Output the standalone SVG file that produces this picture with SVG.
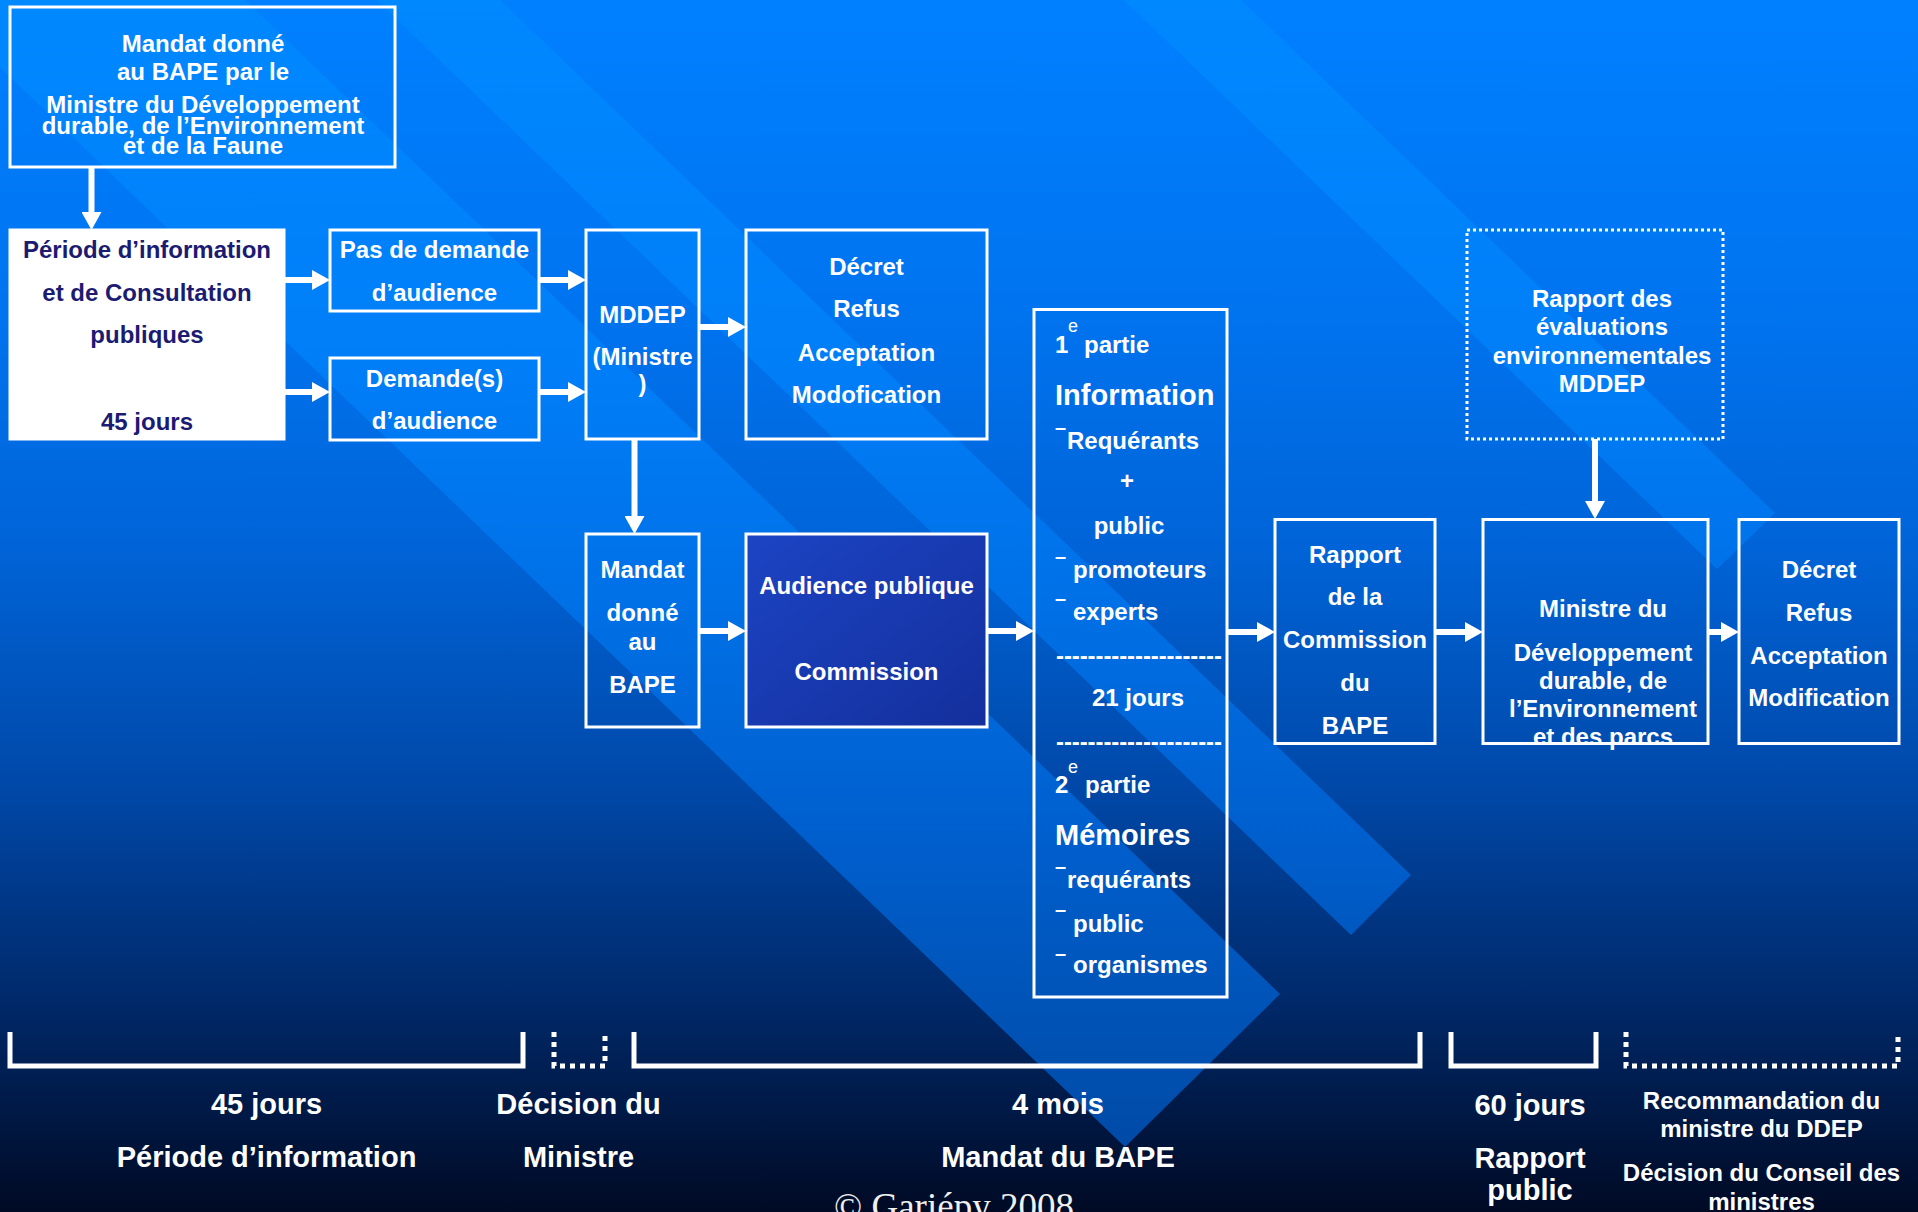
<svg xmlns="http://www.w3.org/2000/svg" width="1918" height="1212" viewBox="0 0 1918 1212">
<defs>
<linearGradient id="bg" x1="0" y1="0" x2="0" y2="1212" gradientUnits="userSpaceOnUse">
<stop offset="0" stop-color="#0080ff"/>
<stop offset="0.25" stop-color="#0074f0"/>
<stop offset="0.45" stop-color="#0064d8"/>
<stop offset="0.65" stop-color="#0048a8"/>
<stop offset="0.82" stop-color="#002a6c"/>
<stop offset="1" stop-color="#000a24"/>
</linearGradient>
<linearGradient id="band" x1="0" y1="0" x2="0" y2="1212" gradientUnits="userSpaceOnUse">
<stop offset="0" stop-color="#0088ff"/>
<stop offset="0.3" stop-color="#007ef8"/>
<stop offset="0.5" stop-color="#0070e6"/>
<stop offset="0.7" stop-color="#005ecc"/>
<stop offset="0.85" stop-color="#0052b4"/>
<stop offset="1" stop-color="#0046a0"/>
</linearGradient>
<linearGradient id="aud" x1="0" y1="0" x2="1" y2="1">
<stop offset="0" stop-color="#1c44c4"/>
<stop offset="1" stop-color="#142f9c"/>
</linearGradient>
<marker id="ah" markerUnits="userSpaceOnUse" markerWidth="18" markerHeight="20" viewBox="0 0 18 20" refX="8" refY="10" orient="auto">
<path d="M0,0 L18,10 L0,20 Z" fill="#fff"/>
</marker>
<style>
.t{font-family:"Liberation Sans",Arial,sans-serif;font-weight:bold;font-size:24px;fill:#fff;text-anchor:middle}
.l{text-anchor:start}
.big{font-size:29px}
.sup{font-size:18px;font-weight:normal}
.dash{font-size:20px}
.nv{fill:#1b1b72}
.box{fill:none;stroke:#fff;stroke-width:3}
.arr{stroke:#fff;stroke-width:6;fill:none;marker-end:url(#ah)}
.br{stroke:#fff;stroke-width:5;fill:none}
.dot{stroke-dasharray:5 5}
.cp{font-family:"Liberation Serif","Times New Roman",serif;font-size:37px;fill:#f0f0f0;text-anchor:middle}
</style>
</defs>

<g id="background">
<rect x="0" y="0" width="1918" height="1212" fill="url(#bg)"/>
<polygon points="-70,0 245,0 1280,994 1125,1147" fill="url(#band)"/>
<polygon points="377,0 500,0 1411,875 1351,935" fill="url(#band)"/>
<polygon points="1124,0 1241,0 1775,513 1717,569" fill="url(#band)"/>
</g>

<g id="connectors">
<line class="arr" x1="91.5" y1="167" x2="91.5" y2="220"/>
<line class="arr" x1="284" y1="280" x2="320" y2="280"/>
<line class="arr" x1="284" y1="392" x2="320" y2="392"/>
<line class="arr" x1="539" y1="280" x2="576" y2="280"/>
<line class="arr" x1="539" y1="392" x2="576" y2="392"/>
<line class="arr" x1="699" y1="327" x2="736" y2="327"/>
<line class="arr" x1="634.5" y1="439" x2="634.5" y2="524"/>
<line class="arr" x1="699" y1="631" x2="736" y2="631"/>
<line class="arr" x1="987" y1="631" x2="1024" y2="631"/>
<line class="arr" x1="1227" y1="632" x2="1265" y2="632"/>
<line class="arr" x1="1435" y1="632" x2="1473" y2="632"/>
<line class="arr" x1="1708" y1="632" x2="1729" y2="632"/>
<line class="arr" x1="1595" y1="439" x2="1595" y2="509"/>
</g>

<g id="mandat-top">
<rect class="box" x="10" y="7" width="385" height="160"/>
<text class="t" x="203" y="52">Mandat donné</text>
<text class="t" x="203" y="80">au BAPE par le</text>
<text class="t" x="203" y="113">Ministre du Développement</text>
<text class="t" x="203" y="133.5">durable, de l’Environnement</text>
<text class="t" x="203" y="154">et de la Faune</text>
</g>

<g id="periode">
<rect x="10" y="230" width="274" height="209" fill="#fff" stroke="#fff" stroke-width="3"/>
<text class="t nv" x="147" y="258">Période d’information</text>
<text class="t nv" x="147" y="301">et de Consultation</text>
<text class="t nv" x="147" y="343">publiques</text>
<text class="t nv" x="147" y="430">45 jours</text>
</g>

<g id="pas-demande">
<rect class="box" x="330" y="230" width="209" height="81"/>
<text class="t" x="434.5" y="258">Pas de demande</text>
<text class="t" x="434.5" y="301">d’audience</text>
</g>

<g id="demandes">
<rect class="box" x="330" y="358" width="209" height="82"/>
<text class="t" x="434.5" y="387">Demande(s)</text>
<text class="t" x="434.5" y="429">d’audience</text>
</g>

<g id="mddep">
<rect class="box" x="586" y="230" width="113" height="209"/>
<text class="t" x="642.5" y="322.5">MDDEP</text>
<text class="t" x="642.5" y="365">(Ministre</text>
<text class="t" x="642.5" y="392">)</text>
</g>

<g id="decret1">
<rect class="box" x="746" y="230" width="241" height="209"/>
<text class="t" x="866.5" y="274.5">Décret</text>
<text class="t" x="866.5" y="317">Refus</text>
<text class="t" x="866.5" y="360.5">Acceptation</text>
<text class="t" x="866.5" y="403">Modofication</text>
</g>

<g id="mandat-bape">
<rect class="box" x="586" y="534" width="113" height="193"/>
<text class="t" x="642.5" y="578">Mandat</text>
<text class="t" x="642.5" y="621">donné</text>
<text class="t" x="642.5" y="650">au</text>
<text class="t" x="642.5" y="692.5">BAPE</text>
</g>

<g id="audience">
<rect x="746" y="534" width="241" height="193" fill="url(#aud)" stroke="#fff" stroke-width="3"/>
<text class="t" x="866.5" y="594">Audience publique</text>
<text class="t" x="866.5" y="680">Commission</text>
</g>

<g id="parties">
<rect class="box" x="1034" y="309.5" width="193" height="687.5"/>
<text class="t l" x="1055" y="353">1</text>
<text class="t l sup" x="1068" y="332">e</text>
<text class="t l" x="1084" y="353">partie</text>
<text class="t l big" x="1055" y="405">Information</text>
<text class="t l dash" x="1055" y="433.5">–</text>
<text class="t l" x="1067" y="449">Requérants</text>
<text class="t" x="1127" y="489">+</text>
<text class="t" x="1129" y="534">public</text>
<text class="t l dash" x="1055" y="562.5">–</text>
<text class="t l" x="1073" y="578">promoteurs</text>
<text class="t l dash" x="1055" y="604.5">–</text>
<text class="t l" x="1073" y="620">experts</text>
<text class="t l" x="1056" y="663.5" textLength="166" lengthAdjust="spacing">---------------------</text>
<text class="t" x="1138" y="706">21 jours</text>
<text class="t l" x="1056" y="750" textLength="166" lengthAdjust="spacing">---------------------</text>
<text class="t l" x="1055" y="793">2</text>
<text class="t l sup" x="1068" y="773">e</text>
<text class="t l" x="1085" y="793">partie</text>
<text class="t l big" x="1055" y="845">Mémoires</text>
<text class="t l dash" x="1055" y="872.5">–</text>
<text class="t l" x="1067" y="888">requérants</text>
<text class="t l dash" x="1055" y="915.5">–</text>
<text class="t l" x="1073" y="932">public</text>
<text class="t l dash" x="1055" y="959.5">–</text>
<text class="t l" x="1073" y="973">organismes</text>
</g>

<g id="rapport-commission">
<rect class="box" x="1275" y="519.5" width="160" height="224"/>
<text class="t" x="1355" y="562.5">Rapport</text>
<text class="t" x="1355" y="605">de la</text>
<text class="t" x="1355" y="648">Commission</text>
<text class="t" x="1355" y="691">du</text>
<text class="t" x="1355" y="734">BAPE</text>
</g>

<g id="ministre">
<rect class="box" x="1483" y="519.5" width="225" height="224"/>
<text class="t" x="1603" y="617">Ministre du</text>
<text class="t" x="1603" y="660.5">Développement</text>
<text class="t" x="1603" y="688.5">durable, de</text>
<text class="t" x="1603" y="717">l’Environnement</text>
<text class="t" x="1603" y="744.5">et des parcs</text>
</g>

<g id="decret2">
<rect class="box" x="1739" y="519.5" width="160" height="224"/>
<text class="t" x="1819" y="578">Décret</text>
<text class="t" x="1819" y="621">Refus</text>
<text class="t" x="1819" y="664">Acceptation</text>
<text class="t" x="1819" y="706">Modification</text>
</g>

<g id="rapport-evaluations">
<rect class="box" x="1467" y="230" width="256" height="209" stroke-dasharray="3 3"/>
<text class="t" x="1602" y="306.5">Rapport des</text>
<text class="t" x="1602" y="335">évaluations</text>
<text class="t" x="1602" y="363.5">environnementales</text>
<text class="t" x="1602" y="392">MDDEP</text>
</g>

<g id="timeline">
<path class="br" d="M10,1032 V1066 H523 V1032"/>
<path class="br dot" d="M554,1032 V1066 H605 V1032"/>
<path class="br" d="M634,1032 V1066 H1420 V1032"/>
<path class="br" d="M1451,1032 V1066 H1596 V1032"/>
<path class="br dot" d="M1626,1032 V1066 H1898 V1032"/>
<text class="t big" x="266.5" y="1113.5">45 jours</text>
<text class="t big" x="266.5" y="1166.5">Période d’information</text>
<text class="t big" x="578.5" y="1113.5">Décision du</text>
<text class="t big" x="578.5" y="1166.5">Ministre</text>
<text class="t big" x="1058" y="1113.5">4 mois</text>
<text class="t big" x="1058" y="1166.5">Mandat du BAPE</text>
<text class="t big" x="1530" y="1115">60 jours</text>
<text class="t big" x="1530" y="1168">Rapport</text>
<text class="t big" x="1530" y="1200">public</text>
<text class="t" x="1761.5" y="1108.5">Recommandation du</text>
<text class="t" x="1761.5" y="1136.5">ministre du DDEP</text>
<text class="t" x="1761.5" y="1180.5">Décision du Conseil des</text>
<text class="t" x="1761.5" y="1209.5">ministres</text>
<text class="cp" x="954" y="1219">© Gariépy 2008</text>
</g>
</svg>
